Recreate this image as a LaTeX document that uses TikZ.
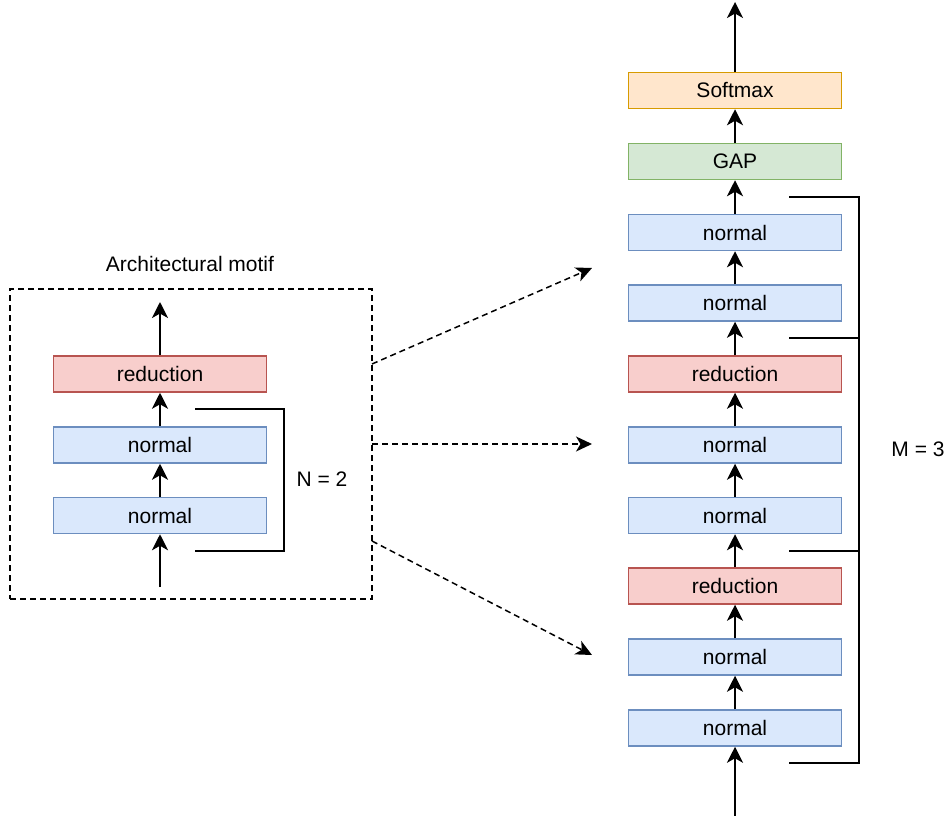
\documentclass[tikz,border=0pt]{standalone}
\usepackage{fontspec}
\setmainfont{Liberation Sans}
\usetikzlibrary{arrows.meta}

\definecolor{nfill}{HTML}{DAE8FC}
\definecolor{ndraw}{HTML}{6C8EBF}
\definecolor{rfill}{HTML}{F8CECC}
\definecolor{rdraw}{HTML}{B85450}
\definecolor{gfill}{HTML}{D5E8D4}
\definecolor{gdraw}{HTML}{82B366}
\definecolor{ofill}{HTML}{FFE6CC}
\definecolor{odraw}{HTML}{D79B00}

\tikzset{
  cell/.style={draw, line width=1.5pt, minimum width=213pt, minimum height=36pt,
    inner sep=0pt, font=\fontsize{21pt}{25pt}\selectfont},
  normalcell/.style={cell, fill=nfill, draw=ndraw},
  redcell/.style={cell, fill=rfill, draw=rdraw},
  gapcell/.style={cell, fill=gfill, draw=gdraw},
  softcell/.style={cell, fill=ofill, draw=odraw},
  flow/.style={line width=1.9pt, -{Stealth[length=16pt, width=16pt, inset=4.5pt]}},
  hop/.style={line width=1.5pt, dash pattern=on 6pt off 4pt,
    -{Stealth[length=16pt, width=15pt, inset=4.5pt]}},
  brace/.style={line width=1.6pt},
  label/.style={font=\fontsize{21pt}{25pt}\selectfont}
}

\begin{document}
\begin{tikzpicture}[x=1pt, y=-1pt]
\useasboundingbox (0,0) rectangle (948,816);

% ---- motif (left) ----
\node[draw, line width=1.5pt, dash pattern=on 6pt off 4pt, minimum width=362pt,
  minimum height=310pt, inner sep=0pt] (motif) at (191,444) {};
\node[label] (title) at (190,264) {Architectural motif};

\node[redcell] (lr) at (160,374) {reduction};
\node[normalcell] (ln2) at (160,445) {normal};
\node[normalcell] (ln1) at (160,515.5) {normal};

\coordinate (lin) at (160,587);
\coordinate (lout) at (160,302);
\draw[flow] (lin) -- (ln1);
\draw[flow] (ln1) -- (ln2);
\draw[flow] (ln2) -- (lr);
\draw[flow] (lr) -- (lout);

\coordinate (lb1) at (195,409);
\coordinate (lb2) at (284,409);
\coordinate (lb3) at (284,551);
\coordinate (lb4) at (195,551);
\draw[brace] (lb1) -- (lb2) -- (lb3) -- (lb4);
\node[label] (nlab) at (322,479) {N = 2};

% ---- network (right) ----
\node[softcell] (soft) at (735,90.5) {Softmax};
\node[gapcell] (gap) at (735,161.5) {GAP};
\node[normalcell] (n6) at (735,232.5) {normal};
\node[normalcell] (n5) at (735,303) {normal};
\node[redcell] (r2) at (735,374) {reduction};
\node[normalcell] (n4) at (735,445) {normal};
\node[normalcell] (n3) at (735,515.5) {normal};
\node[redcell] (r1) at (735,586) {reduction};
\node[normalcell] (n2) at (735,657) {normal};
\node[normalcell] (n1) at (735,728) {normal};

\coordinate (rin) at (735,816);
\coordinate (rout) at (735,2);
\draw[flow] (rin) -- (n1);
\draw[flow] (n1) -- (n2);
\draw[flow] (n2) -- (r1);
\draw[flow] (r1) -- (n3);
\draw[flow] (n3) -- (n4);
\draw[flow] (n4) -- (r2);
\draw[flow] (r2) -- (n5);
\draw[flow] (n5) -- (n6);
\draw[flow] (n6) -- (gap);
\draw[flow] (gap) -- (soft);
\draw[flow] (soft) -- (rout);

\coordinate (rb1) at (789,197);
\coordinate (rb2) at (859,197);
\coordinate (rb3) at (859,763);
\coordinate (rb4) at (789,763);
\coordinate (rt1a) at (789,338);
\coordinate (rt1b) at (859,338);
\coordinate (rt2a) at (789,551);
\coordinate (rt2b) at (859,551);
\draw[brace] (rb1) -- (rb2) -- (rb3) -- (rb4);
\draw[brace] (rt1a) -- (rt1b);
\draw[brace] (rt2a) -- (rt2b);
\node[label] (mlab) at (918,449) {M = 3};

% ---- links from the motif to the stacked network ----
\coordinate (s1) at (372,364);
\coordinate (s2) at (372,444);
\coordinate (s3) at (372,541);
\coordinate (e1) at (592,268);
\coordinate (e2) at (592,444);
\coordinate (e3) at (592,655);
\draw[hop] (s1) -- (e1);
\draw[hop] (s2) -- (e2);
\draw[hop] (s3) -- (e3);
\end{tikzpicture}
\end{document}
